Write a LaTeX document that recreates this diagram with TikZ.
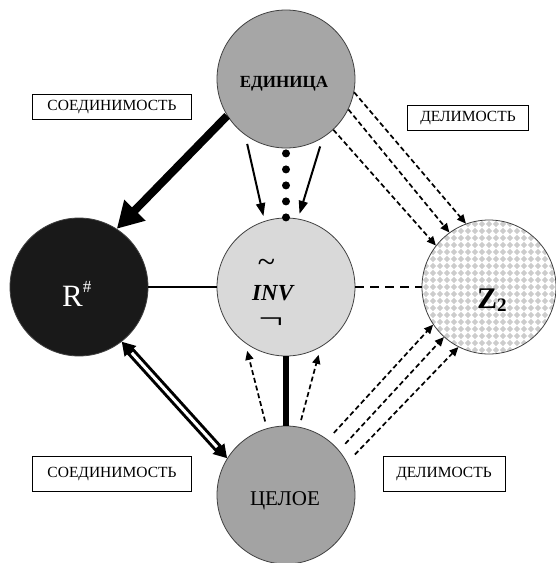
\documentclass[tikz,border=0pt]{standalone}
\usepackage{fontspec}
\setmainfont{Liberation Serif}
\usetikzlibrary{arrows.meta}
\begin{document}
\begin{tikzpicture}[x=1pt,y=-1pt,
  ball/.style={circle, draw=black!75, line width=0.8pt, minimum size=138pt, inner sep=0pt},
  tagbox/.style={draw=black, line width=0.8pt, fill=white, inner sep=0pt,
    font=\fontsize{15.5}{16}\selectfont},
  dsharrow/.style={line width=1.7pt, dash pattern=on 5pt off 3pt,
    -{Triangle[length=9pt,width=8pt]}},
  solidarrow/.style={line width=2pt, -{Triangle[length=13pt,width=9pt]}},
]
\fill[white] (0,0) rectangle (556,563);
\useasboundingbox (0,0) rectangle (556,563);

% pattern of Z2
\begin{scope}
  \clip (489,287) circle (67);
  \fill[white] (489,287) circle (67);
  \foreach \i in {-10,...,10}
    \foreach \j in {-10,...,10}
      \fill[black!20] (489+7*\i,287+7*\j) +(3.2,0) -- +(0,3.2) -- +(-3.2,0) -- +(0,-3.2) -- cycle;
\end{scope}

% circles
\node[ball, fill=black!35] (e) at (286,79) {};
\node[ball, fill=black!15] (i) at (286,287) {};
\node[ball, fill=black!90] (r) at (79,287) {};
\node[ball, minimum size=134pt] (z) at (489,287) {};
\node[ball, fill=black!36] (c) at (286,495) {};

% texts in circles
\node[font=\bfseries\fontsize{17}{17}\selectfont, anchor=base, inner sep=0pt] (et) at (284,87) {ЕДИНИЦА};
\node[font=\fontsize{21}{21}\selectfont, anchor=base, inner sep=0pt] (ct) at (285,505) {ЦЕЛОЕ};
\node[font=\fontsize{31}{31}\selectfont, text=white, anchor=base west, inner sep=0pt] (rt) at (62,306)
  {R\raisebox{0.42em}{\fontsize{17}{17}\selectfont\#}};
\node[font=\bfseries\fontsize{30}{30}\selectfont, anchor=base west, inner sep=0pt] (zt) at (477,308)
  {Z\raisebox{-0.1em}{\fontsize{19}{19}\selectfont 2}};
\node[font=\bfseries\itshape\fontsize{23}{23}\selectfont, anchor=base west, inner sep=0pt] (it) at (252,300) {INV};
\node[font=\itshape\fontsize{32}{32}\selectfont, anchor=base, inner sep=0pt] (tl) at (266,272) {\char"007E};
\node[font=\fontsize{30}{30}\selectfont, anchor=base, inner sep=0pt] (ng) at (271,328) {\scalebox{1.45}[1]{¬}};

% label boxes
\node[tagbox, minimum width=159pt, minimum height=25pt] (s1) at (112,107) {СОЕДИНИМОСТЬ};
\node[tagbox, minimum width=121pt, minimum height=25pt] (d1) at (468,118) {ДЕЛИМОСТЬ};
\node[tagbox, minimum width=159pt, minimum height=35pt] (s2) at (112,474) {СОЕДИНИМОСТЬ};
\node[tagbox, minimum width=122pt, minimum height=35pt] (d2) at (444,474) {ДЕЛИМОСТЬ};

% connectors
\draw[line width=8pt, -{Triangle[length=26pt,width=28pt]}] (e.212) -- (r.57);
\draw[solidarrow, shorten <=9pt, shorten >=5pt] (e.234) -- (i.108);
\draw[solidarrow, shorten <=9pt, shorten >=5pt] (e.302) -- (i.80);
\draw[line width=8pt, line cap=round, dash pattern=on 0pt off 16pt, shorten <=5pt] (e.south) -- (i.north);
\draw[line width=1.5pt] (r.east) -- (i.west);
\draw[line width=1.5pt, dash pattern=on 9pt off 6pt] (i.east) -- (z.west);
\draw[line width=6pt] (i.south) -- (c.north);
\draw[line width=9pt, {Triangle[length=13pt,width=15pt]}-{Triangle[length=13pt,width=15pt]}] (r.308) -- (c.148);
\draw[white, line width=3pt, shorten <=15pt, shorten >=15pt] (r.308) -- (c.148);

\draw[dsharrow, shorten <=7pt, shorten >=8pt] (c.106) -- (i.234);
\draw[dsharrow, shorten <=7pt, shorten >=8pt] (c.79) -- (i.300);

\draw[dsharrow] (e.-11) -- (z.110);
\draw[dsharrow] (e.-26) -- (z.126);
\draw[dsharrow] (e.-47) -- (z.142);

\draw[dsharrow, shorten <=9pt] (c.53) -- (z.214);
\draw[dsharrow, shorten <=9pt] (c.40) -- (z.228);
\draw[dsharrow, shorten <=11pt] (c.28) -- (z.243);
\end{tikzpicture}
\end{document}
